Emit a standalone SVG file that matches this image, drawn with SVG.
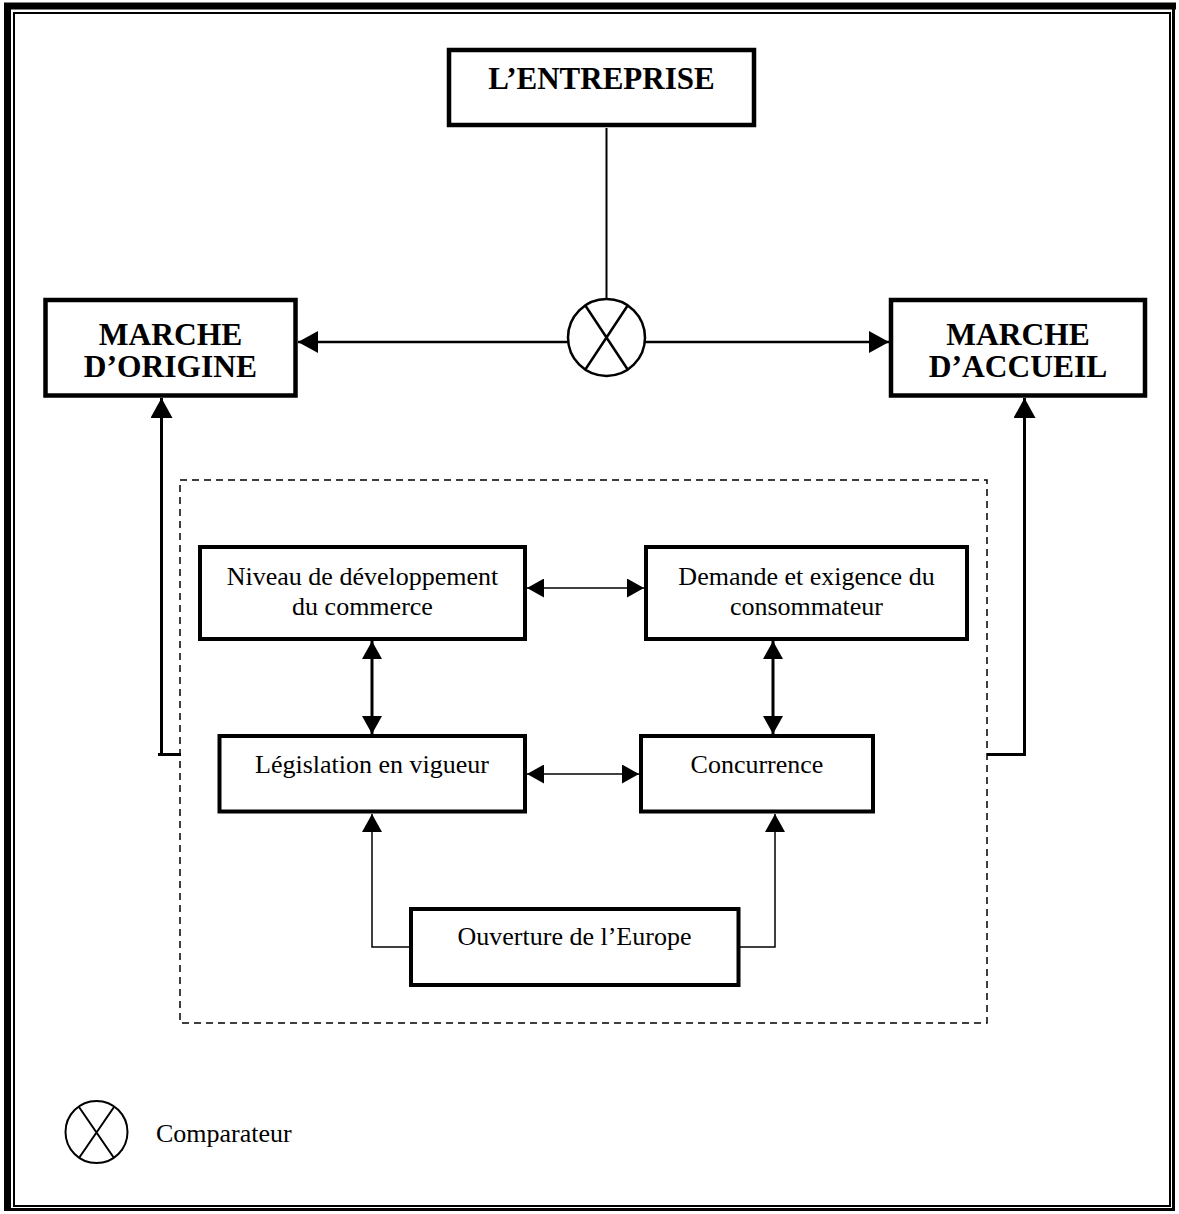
<svg xmlns="http://www.w3.org/2000/svg" width="1179" height="1214" viewBox="0 0 1179 1214">
<style>
.box{fill:#fff;stroke:#000;stroke-width:4.5}
.ibox{fill:#fff;stroke:#000;stroke-width:4}
.big{font-family:"Liberation Serif","Times New Roman",serif;font-weight:bold;text-anchor:middle;fill:#000}
.txt{font-family:"Liberation Serif","Times New Roman",serif;font-size:26px;text-anchor:middle;fill:#000}
.ln{fill:none;stroke:#000}
</style>
<defs>
<marker id="ahB" markerUnits="userSpaceOnUse" markerWidth="20" markerHeight="22" refX="20" refY="11" orient="auto-start-reverse"><path d="M0,0 L20,11 L0,22 z" fill="#000"/></marker>
<marker id="ahS" markerUnits="userSpaceOnUse" markerWidth="17" markerHeight="19" refX="17" refY="9.5" orient="auto-start-reverse"><path d="M0,0 L17,9.5 L0,19 z" fill="#000"/></marker>
<marker id="ahM" markerUnits="userSpaceOnUse" markerWidth="18" markerHeight="20" refX="18" refY="10" orient="auto-start-reverse"><path d="M0,0 L18,10 L0,20 z" fill="#000"/></marker>
</defs>
<rect width="1179" height="1214" fill="#fff"/>
<g id="frame">
<path d="M7.5,1211 V6 H1176" class="ln" stroke-width="7"/>
<path d="M4,1209.5 H1173.5 V3" class="ln" stroke-width="3"/>
<rect x="14" y="13" width="1156" height="1193" class="ln" stroke-width="2"/>
</g>
<g id="context">
<rect x="180" y="480" width="807" height="543" fill="none" stroke="#000" stroke-width="1.5" stroke-dasharray="7 5"/>
</g>
<g id="connectors">
<line x1="606.5" y1="128" x2="606.5" y2="299" class="ln" stroke-width="2"/>
<line x1="568" y1="342" x2="298" y2="342" class="ln" stroke-width="2.5" marker-end="url(#ahB)"/>
<line x1="645" y1="342" x2="889" y2="342" class="ln" stroke-width="2.5" marker-end="url(#ahB)"/>
<path d="M181,754.5 H158" class="ln" stroke-width="3"/>
<path d="M161.5,756 V398" class="ln" stroke-width="3" marker-end="url(#ahB)"/>
<path d="M987,754.5 H1024.5 V398" class="ln" stroke-width="3" marker-end="url(#ahB)"/>
<line x1="527" y1="588" x2="644" y2="588" class="ln" stroke-width="1.5" marker-start="url(#ahS)" marker-end="url(#ahS)"/>
<line x1="527" y1="774" x2="639" y2="774" class="ln" stroke-width="1.5" marker-start="url(#ahS)" marker-end="url(#ahS)"/>
<line x1="372" y1="641" x2="372" y2="734" class="ln" stroke-width="3" marker-start="url(#ahM)" marker-end="url(#ahM)"/>
<line x1="773" y1="641" x2="773" y2="734" class="ln" stroke-width="3" marker-start="url(#ahM)" marker-end="url(#ahM)"/>
<path d="M409,947 H372 V814" class="ln" stroke-width="1.5" marker-end="url(#ahM)"/>
<path d="M740,947 H775 V814" class="ln" stroke-width="1.5" marker-end="url(#ahM)"/>
</g>
<g id="entreprise">
<rect x="449" y="50" width="305" height="75" class="box"/>
<text x="601.5" y="89" class="big" font-size="31">L’ENTREPRISE</text>
</g>
<g id="comparateur">
<circle cx="606.5" cy="337.5" r="38.5" fill="#fff" stroke="#000" stroke-width="2.5"/>
<path d="M585,305 L628,370 M628,305 L585,370" class="ln" stroke-width="2.5"/>
</g>
<g id="marche-origine">
<rect x="45.5" y="300" width="250" height="95.5" class="box"/>
<text x="170.5" y="345" class="big" font-size="31.5">MARCHE</text>
<text x="170.5" y="377" class="big" font-size="31.5">D’ORIGINE</text>
</g>
<g id="marche-accueil">
<rect x="891" y="300" width="254" height="95.5" class="box"/>
<text x="1018" y="345" class="big" font-size="31.5">MARCHE</text>
<text x="1018" y="377" class="big" font-size="31.5">D’ACCUEIL</text>
</g>
<g id="niveau">
<rect x="200" y="547" width="325" height="92" class="ibox"/>
<text x="362.5" y="585" class="txt">Niveau de développement</text>
<text x="362.5" y="615" class="txt">du commerce</text>
</g>
<g id="demande">
<rect x="646" y="547" width="321" height="92" class="ibox"/>
<text x="806.5" y="585" class="txt">Demande et exigence du</text>
<text x="806.5" y="615" class="txt">consommateur</text>
</g>
<g id="legislation">
<rect x="219.5" y="736" width="305.5" height="75.5" class="ibox"/>
<text x="372" y="773" class="txt">Législation en vigueur</text>
</g>
<g id="concurrence">
<rect x="641" y="736" width="232" height="75.5" class="ibox"/>
<text x="757" y="773" class="txt">Concurrence</text>
</g>
<g id="ouverture">
<rect x="411" y="909" width="327.5" height="76" class="ibox"/>
<text x="574.5" y="945" class="txt">Ouverture de l’Europe</text>
</g>
<g id="legend">
<circle cx="96.5" cy="1132" r="31" fill="#fff" stroke="#000" stroke-width="2"/>
<path d="M79,1107 L114,1158 M114,1107 L79,1158" class="ln" stroke-width="2"/>
<text x="156" y="1142" font-family="Liberation Serif,Times New Roman,serif" font-size="26" fill="#000">Comparateur</text>
</g>
</svg>
